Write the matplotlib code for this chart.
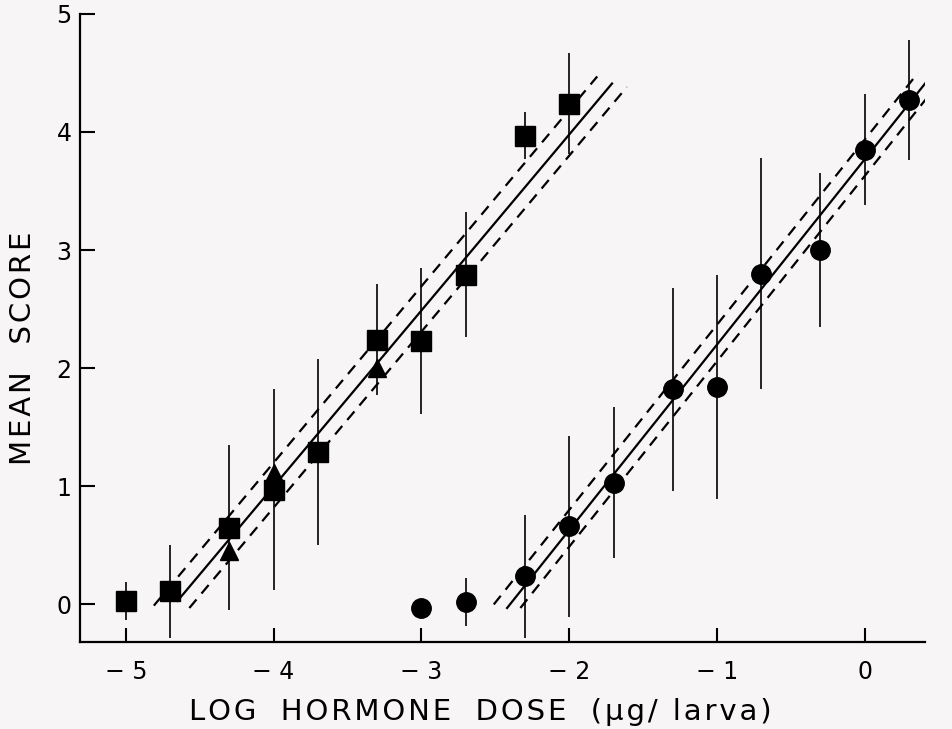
import matplotlib
matplotlib.use("Agg")
import matplotlib.pyplot as plt

# =========================
# DATA
# =========================
# squares (left series)
sq_x = [-5.0, -4.7, -4.3, -4.0, -3.7, -3.3, -3.0, -2.7, -2.3, -2.0]
sq_y = [0.03, 0.11, 0.65, 0.97, 1.29, 2.24, 2.23, 2.79, 3.97, 4.24]
sq_err = [0.16, 0.39, 0.70, 0.85, 0.79, 0.47, 0.62, 0.53, 0.20, 0.43]

# triangles (left series, no error bars)
tri_x = [-4.3, -4.0, -3.3]
tri_y = [0.45, 1.11, 2.00]

# circles (right series)
ci_x = [-3.0, -2.7, -2.3, -2.0, -1.7, -1.3, -1.0, -0.7, -0.3, 0.0, 0.3]
ci_y = [-0.03, 0.02, 0.24, 0.66, 1.03, 1.82, 1.84, 2.80, 3.00, 3.85, 4.27]
ci_err = [0.0, 0.20, 0.52, 0.77, 0.64, 0.86, 0.95, 0.98, 0.65, 0.47, 0.51]

# regression lines + limits (endpoints)
left_fit_x = [-4.65, -1.71]
left_fit_y = [0.03, 4.41]
left_hi_x = [-4.81, -1.81]
left_hi_y = [-0.01, 4.47]
left_lo_x = [-4.57, -1.61]
left_lo_y = [-0.03, 4.38]

right_fit_x = [-2.42, 0.44]
right_fit_y = [-0.03, 4.46]
right_hi_x = [-2.51, 0.36]
right_hi_y = [0.00, 4.50]
right_lo_x = [-2.33, 0.53]
right_lo_y = [-0.03, 4.46]

x_ticks = [-5, -4, -3, -2, -1, 0]
x_tick_labels = ["\u2212 5", "\u2212 4", "\u2212 3", "\u2212 2", "\u2212 1", "0"]
y_ticks = [0, 1, 2, 3, 4, 5]

x_label_words = ["LOG", "HORMONE", "DOSE", "(\u03bcg/ larva)"]
y_label_words = ["MEAN", "SCORE"]

bg = "#f7f5f6"


def spaced(words, gap="   "):
    # hair spaces between letters to mimic the wide hand lettering
    return gap.join("\u200a".join(w) for w in words)


fig = plt.figure(figsize=(9.52, 7.29), dpi=100, facecolor=bg)
ax = fig.add_axes([0.084, 0.119, 0.888, 0.862])
ax.set_facecolor(bg)

# =========================
# ERROR BARS
# =========================
ax.vlines(sq_x, [y - e for y, e in zip(sq_y, sq_err)],
          [y + e for y, e in zip(sq_y, sq_err)], color="black", lw=1.2)
ax.vlines(ci_x, [y - e for y, e in zip(ci_y, ci_err)],
          [y + e for y, e in zip(ci_y, ci_err)], color="black", lw=1.2)

# =========================
# FIT LINES
# =========================
for xs, ys in [(left_fit_x, left_fit_y), (right_fit_x, right_fit_y)]:
    ax.plot(xs, ys, color="black", lw=1.6)

for xs, ys in [(left_hi_x, left_hi_y), (left_lo_x, left_lo_y),
               (right_hi_x, right_hi_y), (right_lo_x, right_lo_y)]:
    ax.plot(xs, ys, color="black", lw=1.6, dashes=(5, 3.5))

# =========================
# MARKERS
# =========================
ax.plot(sq_x, sq_y, "s", color="black", ms=15, zorder=3)
ax.plot(tri_x, tri_y, "^", color="black", ms=13, zorder=3)
ax.plot(ci_x, ci_y, "o", color="black", ms=14, zorder=3)

# =========================
# AXES
# =========================
ax.set_xlim(-5.31, 0.41)
ax.set_ylim(-0.32, 5.0)

ax.spines["top"].set_visible(False)
ax.spines["right"].set_visible(False)
ax.spines["left"].set_linewidth(1.6)
ax.spines["bottom"].set_linewidth(1.6)

ax.set_xticks(x_ticks)
ax.set_xticklabels(x_tick_labels)
ax.set_yticks(y_ticks)

ax.tick_params(axis="x", direction="in", length=10, width=1.5,
               labelsize=17, pad=13)
ax.tick_params(axis="y", direction="in", length=11, width=1.5,
               labelsize=17, pad=6)

ax.set_xlabel(spaced(x_label_words, gap="  \u2009"), fontsize=21)
ax.xaxis.set_label_coords(0.473, -0.088)
ax.set_ylabel(spaced(y_label_words), fontsize=21)
ax.yaxis.set_label_coords(-0.051, 0.467)

fig.savefig("out.png", dpi=100, facecolor=bg)
